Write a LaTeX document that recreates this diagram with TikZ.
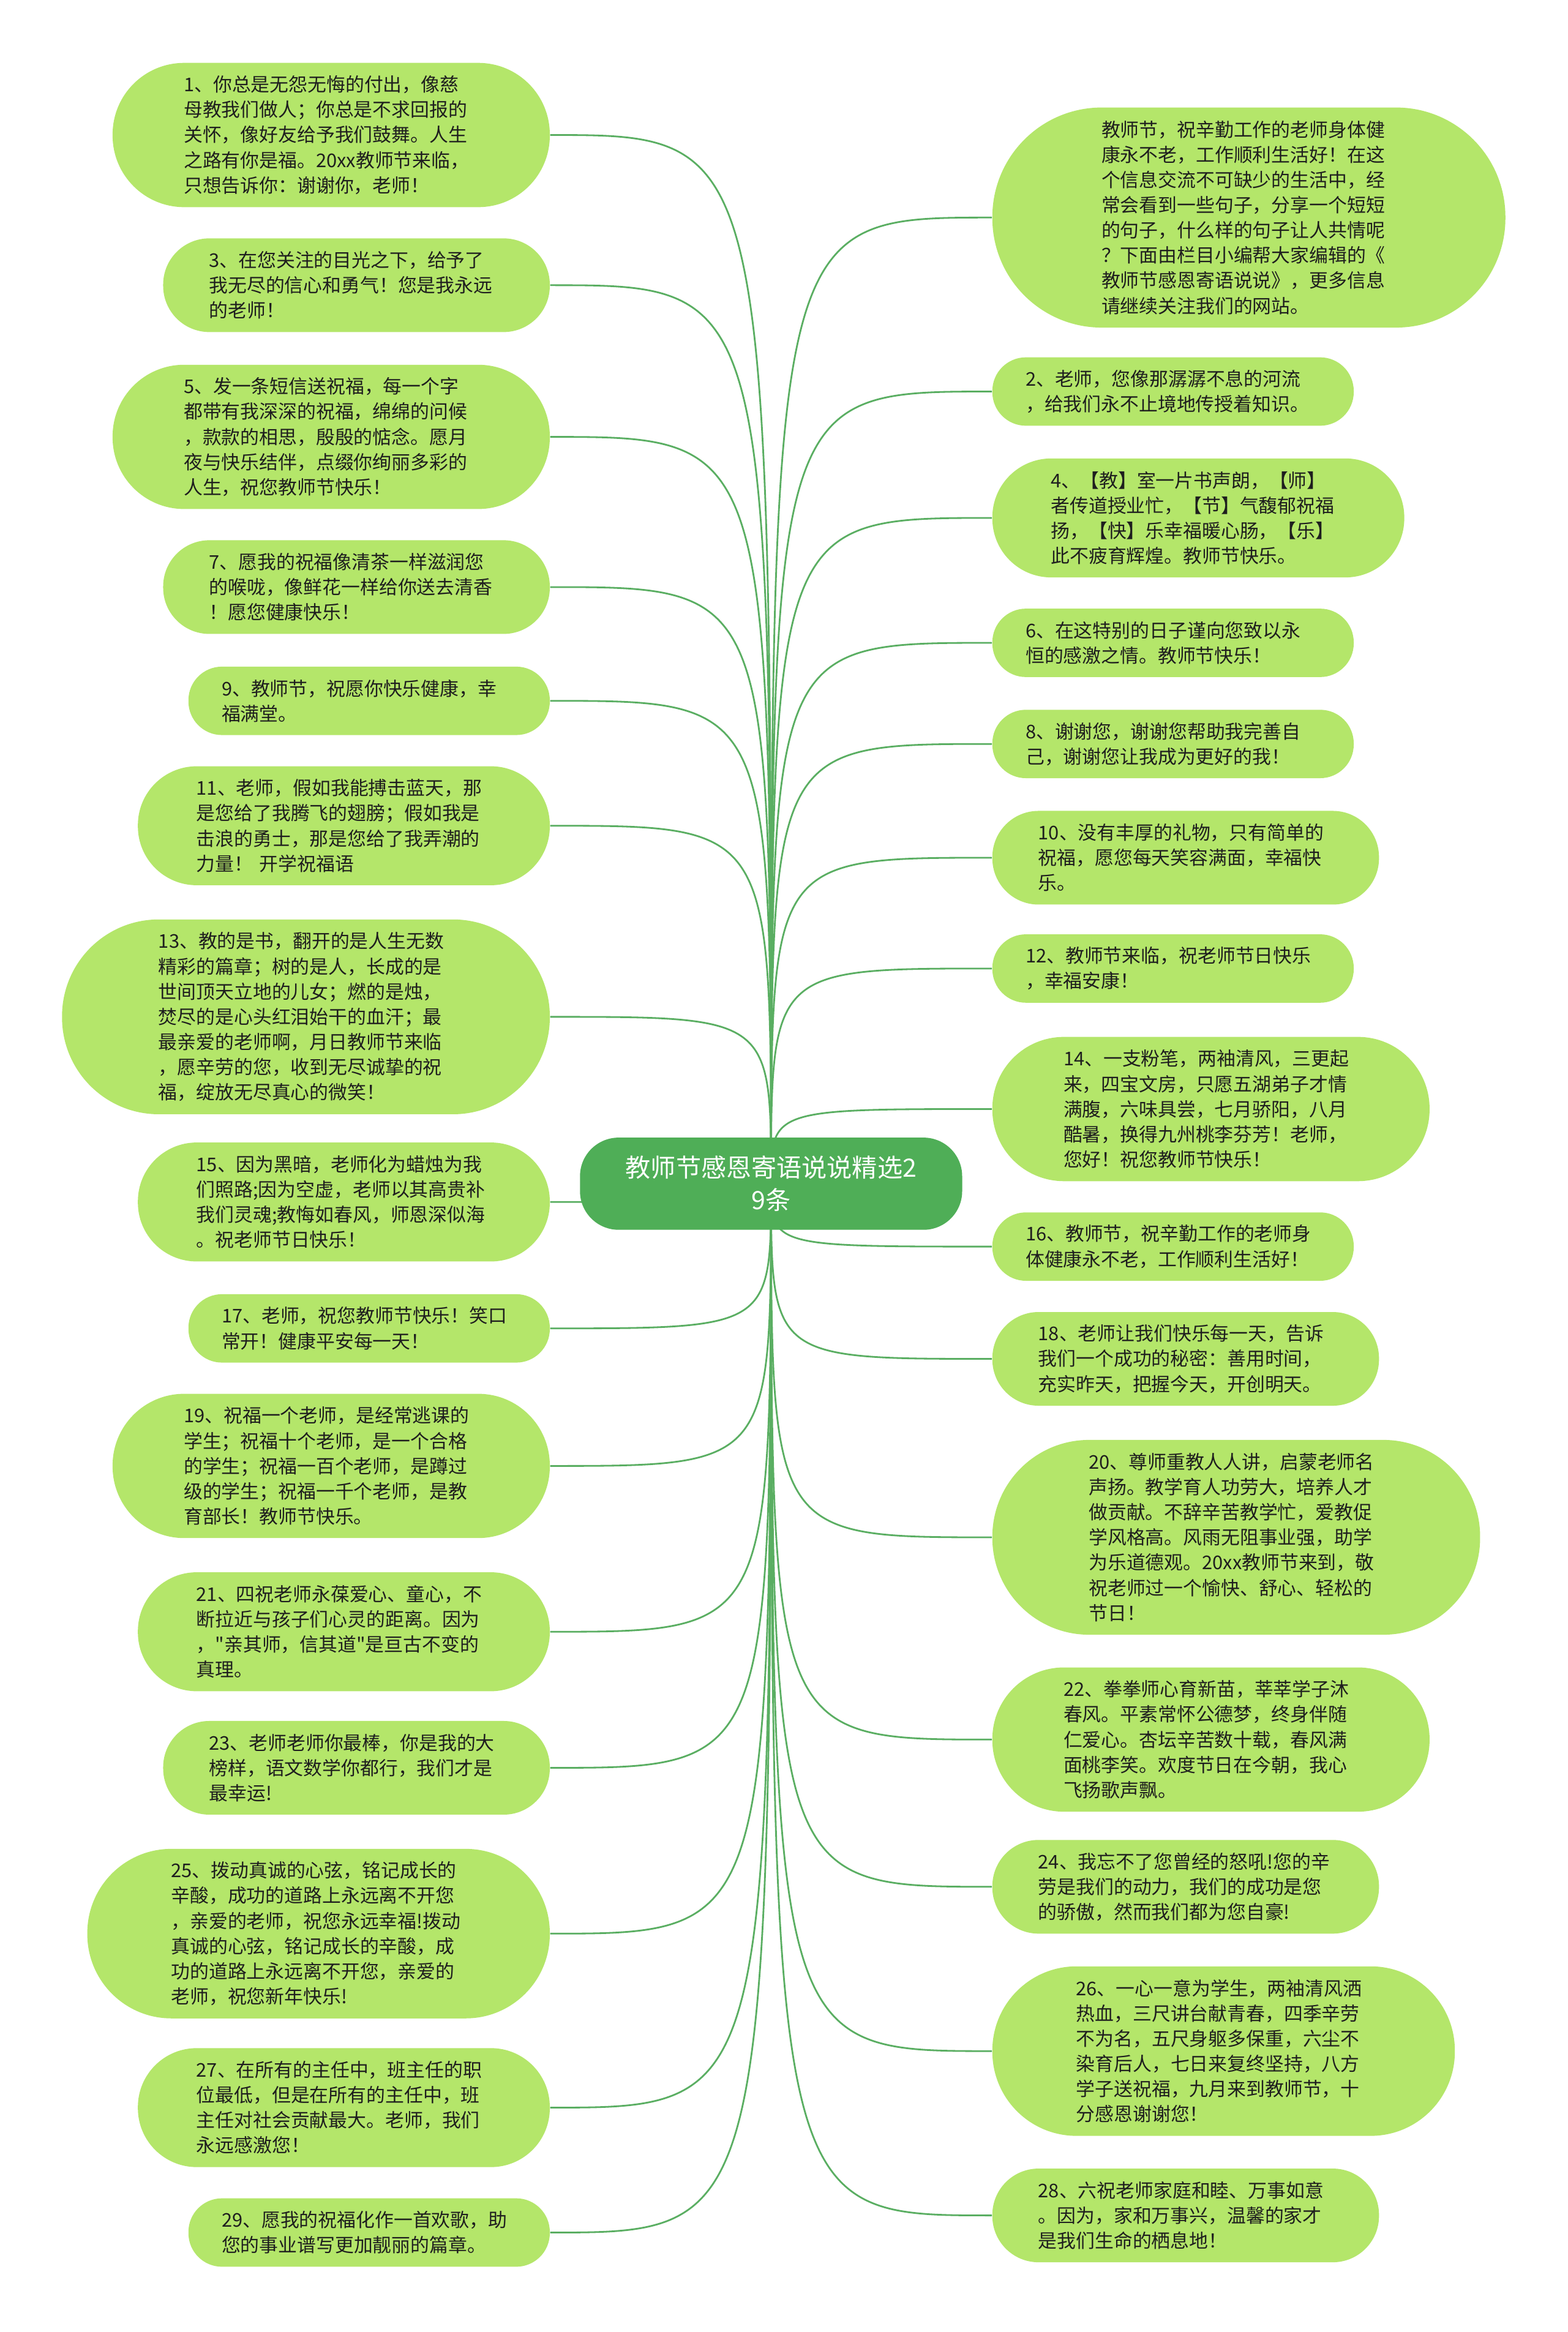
\documentclass[tikz,border=0pt]{standalone}
\usepackage{fontspec}
\newfontfamily\cjkfont{Noto Sans CJK SC}
\usetikzlibrary{backgrounds}

\definecolor{leafgreen}{HTML}{B4E66A}
\definecolor{rootgreen}{HTML}{4FAE57}
\definecolor{linkgreen}{HTML}{5AAE62}
\definecolor{inkdark}{HTML}{1E1E1E}

% one unit of the picture = one pixel of the shrunk reference
\newlength{\px}
\setlength{\px}{0.24288mm}

\tikzset{
  leaf/.style={fill=leafgreen, text=inkdark, inner sep=0pt, align=left,
    text width=137pt, font=\cjkfont\fontsize{8.78pt}{11.7pt}\selectfont},
  root/.style={fill=rootgreen, text=white, inner sep=0pt, align=center,
    minimum width=257*\px, minimum height=62*\px, rounded corners=26*\px,
    font=\cjkfont\fontsize{11.7pt}{15.2pt}\selectfont},
  link/.style={draw=linkgreen, line width=0.8pt}
}

% leaf boxes grow with the number of text lines
\newcommand{\leftleaf}[4]{%
  \node[leaf, anchor=north east, minimum width={(209+17*#3)*\px},
    minimum height={(12+17*#3)*\px}, rounded corners={(6+8.5*#3)*\px-0.3pt}]
    (#1) at (370,#2) {#4};}
\newcommand{\rightleaf}[4]{%
  \node[leaf, anchor=north west, minimum width={(209+17*#3)*\px},
    minimum height={(12+17*#3)*\px}, rounded corners={(6+8.5*#3)*\px-0.3pt}]
    (#1) at (667,#2) {#4};}

\begin{document}
\begin{tikzpicture}[x=\px, y=-\px]
  \useasboundingbox (0,0) rectangle (1054,1568.2);

  % Centre
  \node[root] (root) at (518.5,796) {教师节感恩寄语说说精选2\\9条};

  % Left column
  \leftleaf{n1}{42}{5}{1、你总是无怨无悔的付出，像慈\\母教我们做人；你总是不求回报的\\关怀，像好友给予我们鼓舞。人生\\之路有你是福。20xx教师节来临，\\只想告诉你：谢谢你，老师！}
  \leftleaf{n3}{160}{3}{3、在您关注的目光之下，给予了\\我无尽的信心和勇气！您是我永远\\的老师！}
  \leftleaf{n5}{245}{5}{5、发一条短信送祝福，每一个字\\都带有我深深的祝福，绵绵的问候\\，款款的相思，殷殷的惦念。愿月\\夜与快乐结伴，点缀你绚丽多彩的\\人生，祝您教师节快乐！}
  \leftleaf{n7}{363}{3}{7、愿我的祝福像清茶一样滋润您\\的喉咙，像鲜花一样给你送去清香\\！愿您健康快乐！}
  \leftleaf{n9}{448}{2}{9、教师节，祝愿你快乐健康，幸\\福满堂。}
  \leftleaf{n11}{515}{4}{11、老师，假如我能搏击蓝天，那\\是您给了我腾飞的翅膀；假如我是\\击浪的勇士，那是您给了我弄潮的\\力量！ 开学祝福语}
  \leftleaf{n13}{618}{7}{13、教的是书，翻开的是人生无数\\精彩的篇章；树的是人，长成的是\\世间顶天立地的儿女；燃的是烛，\\焚尽的是心头红泪始干的血汗；最\\最亲爱的老师啊，月日教师节来临\\，愿辛劳的您，收到无尽诚挚的祝\\福，绽放无尽真心的微笑！}
  \leftleaf{n15}{768}{4}{15、因为黑暗，老师化为蜡烛为我\\们照路;因为空虚，老师以其高贵补\\我们灵魂;教悔如春风，师恩深似海\\。祝老师节日快乐！}
  \leftleaf{n17}{870}{2}{17、老师，祝您教师节快乐！笑口\\常开！健康平安每一天！}
  \leftleaf{n19}{937}{5}{19、祝福一个老师，是经常逃课的\\学生；祝福十个老师，是一个合格\\的学生；祝福一百个老师，是蹲过\\级的学生；祝福一千个老师，是教\\育部长！教师节快乐。}
  \leftleaf{n21}{1057}{4}{21、四祝老师永葆爱心、童心，不\\断拉近与孩子们心灵的距离。因为\\，"亲其师，信其道"是亘古不变的\\真理。}
  \leftleaf{n23}{1157}{3}{23、老师老师你最棒，你是我的大\\榜样，语文数学你都行，我们才是\\最幸运!}
  \leftleaf{n25}{1243}{6}{25、拨动真诚的心弦，铭记成长的\\辛酸，成功的道路上永远离不开您\\，亲爱的老师，祝您永远幸福!拨动\\真诚的心弦，铭记成长的辛酸，成\\功的道路上永远离不开您，亲爱的\\老师，祝您新年快乐!}
  \leftleaf{n27}{1377}{4}{27、在所有的主任中，班主任的职\\位最低，但是在所有的主任中，班\\主任对社会贡献最大。老师，我们\\永远感激您！}
  \leftleaf{n29}{1478}{2}{29、愿我的祝福化作一首欢歌，助\\您的事业谱写更加靓丽的篇章。}

  % Right column
  \rightleaf{n0}{72}{8}{教师节，祝辛勤工作的老师身体健\\康永不老，工作顺利生活好！在这\\个信息交流不可缺少的生活中，经\\常会看到一些句子，分享一个短短\\的句子，什么样的句子让人共情呢\\？下面由栏目小编帮大家编辑的《\\教师节感恩寄语说说》，更多信息\\请继续关注我们的网站。}
  \rightleaf{n2}{240}{2}{2、老师，您像那潺潺不息的河流\\，给我们永不止境地传授着知识。}
  \rightleaf{n4}{308}{4}{4、【教】室一片书声朗，【师】\\者传道授业忙，【节】气馥郁祝福\\扬，【快】乐幸福暖心肠，【乐】\\此不疲育辉煌。教师节快乐。}
  \rightleaf{n6}{409}{2}{6、在这特别的日子谨向您致以永\\恒的感激之情。教师节快乐！}
  \rightleaf{n8}{477}{2}{8、谢谢您，谢谢您帮助我完善自\\己，谢谢您让我成为更好的我！}
  \rightleaf{n10}{545}{3}{10、没有丰厚的礼物，只有简单的\\祝福，愿您每天笑容满面，幸福快\\乐。}
  \rightleaf{n12}{628}{2}{12、教师节来临，祝老师节日快乐\\，幸福安康！}
  \rightleaf{n14}{697}{5}{14、一支粉笔，两袖清风，三更起\\来，四宝文房，只愿五湖弟子才情\\满腹，六味具尝，七月骄阳，八月\\酷暑，换得九州桃李芬芳！老师，\\您好！祝您教师节快乐！}
  \rightleaf{n16}{815}{2}{16、教师节，祝辛勤工作的老师身\\体健康永不老，工作顺利生活好！}
  \rightleaf{n18}{882}{3}{18、老师让我们快乐每一天，告诉\\我们一个成功的秘密：善用时间，\\充实昨天，把握今天，开创明天。}
  \rightleaf{n20}{968}{7}{20、尊师重教人人讲，启蒙老师名\\声扬。教学育人功劳大，培养人才\\做贡献。不辞辛苦教学忙，爱教促\\学风格高。风雨无阻事业强，助学\\为乐道德观。20xx教师节来到，敬\\祝老师过一个愉快、舒心、轻松的\\节日！}
  \rightleaf{n22}{1121}{5}{22、拳拳师心育新苗，莘莘学子沐\\春风。平素常怀公德梦，终身伴随\\仁爱心。杏坛辛苦数十载，春风满\\面桃李笑。欢度节日在今朝，我心\\飞扬歌声飘。}
  \rightleaf{n24}{1237}{3}{24、我忘不了您曾经的怒吼!您的辛\\劳是我们的动力，我们的成功是您\\的骄傲，然而我们都为您自豪!}
  \rightleaf{n26}{1322}{6}{26、一心一意为学生，两袖清风洒\\热血，三尺讲台献青春，四季辛劳\\不为名，五尺身躯多保重，六尘不\\染育后人，七日来复终坚持，八方\\学子送祝福，九月来到教师节，十\\分感恩谢谢您！}
  \rightleaf{n28}{1458}{3}{28、六祝老师家庭和睦、万事如意\\。因为，家和万事兴，温馨的家才\\是我们生命的栖息地！}

  % Branches, kept under the centre node
  \begin{pgfonlayer}{background}
    \draw[link] (root.center) .. controls (root.center |- n1.east) .. (n1.east);
    \draw[link] (root.center) .. controls (root.center |- n3.east) .. (n3.east);
    \draw[link] (root.center) .. controls (root.center |- n5.east) .. (n5.east);
    \draw[link] (root.center) .. controls (root.center |- n7.east) .. (n7.east);
    \draw[link] (root.center) .. controls (root.center |- n9.east) .. (n9.east);
    \draw[link] (root.center) .. controls (root.center |- n11.east) .. (n11.east);
    \draw[link] (root.center) .. controls (root.center |- n13.east) .. (n13.east);
    \draw[link] (root.center) .. controls (root.center |- n15.east) .. (n15.east);
    \draw[link] (root.center) .. controls (root.center |- n17.east) .. (n17.east);
    \draw[link] (root.center) .. controls (root.center |- n19.east) .. (n19.east);
    \draw[link] (root.center) .. controls (root.center |- n21.east) .. (n21.east);
    \draw[link] (root.center) .. controls (root.center |- n23.east) .. (n23.east);
    \draw[link] (root.center) .. controls (root.center |- n25.east) .. (n25.east);
    \draw[link] (root.center) .. controls (root.center |- n27.east) .. (n27.east);
    \draw[link] (root.center) .. controls (root.center |- n29.east) .. (n29.east);
    \draw[link] (root.center) .. controls (root.center |- n0.west) .. (n0.west);
    \draw[link] (root.center) .. controls (root.center |- n2.west) .. (n2.west);
    \draw[link] (root.center) .. controls (root.center |- n4.west) .. (n4.west);
    \draw[link] (root.center) .. controls (root.center |- n6.west) .. (n6.west);
    \draw[link] (root.center) .. controls (root.center |- n8.west) .. (n8.west);
    \draw[link] (root.center) .. controls (root.center |- n10.west) .. (n10.west);
    \draw[link] (root.center) .. controls (root.center |- n12.west) .. (n12.west);
    \draw[link] (root.center) .. controls (root.center |- n14.west) .. (n14.west);
    \draw[link] (root.center) .. controls (root.center |- n16.west) .. (n16.west);
    \draw[link] (root.center) .. controls (root.center |- n18.west) .. (n18.west);
    \draw[link] (root.center) .. controls (root.center |- n20.west) .. (n20.west);
    \draw[link] (root.center) .. controls (root.center |- n22.west) .. (n22.west);
    \draw[link] (root.center) .. controls (root.center |- n24.west) .. (n24.west);
    \draw[link] (root.center) .. controls (root.center |- n26.west) .. (n26.west);
    \draw[link] (root.center) .. controls (root.center |- n28.west) .. (n28.west);
  \end{pgfonlayer}
\end{tikzpicture}
\end{document}
